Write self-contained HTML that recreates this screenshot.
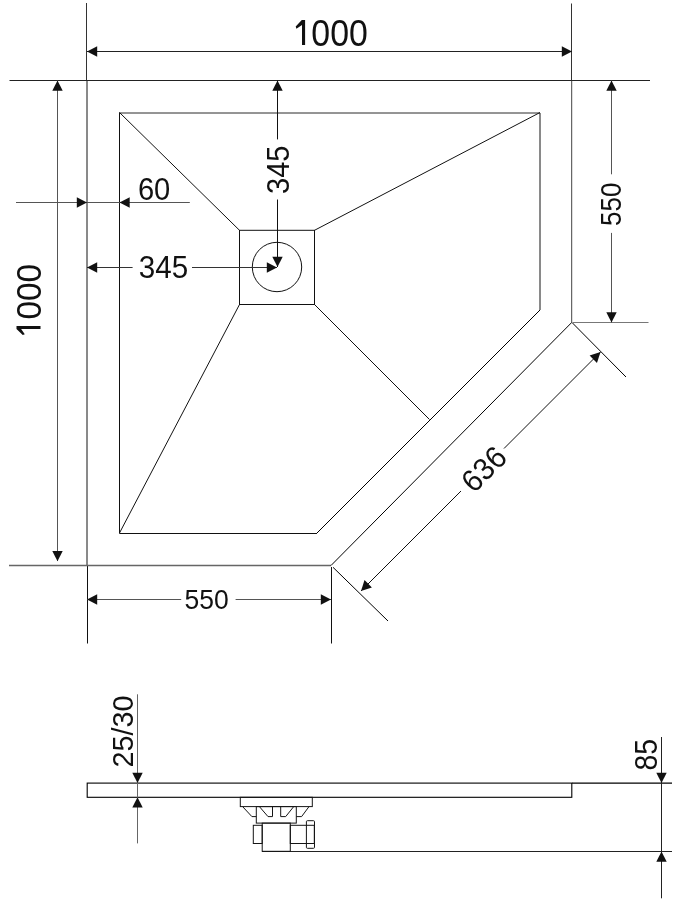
<!DOCTYPE html>
<html><head><meta charset="utf-8"><style>
html,body{margin:0;padding:0;background:#fff;}
svg{display:block;will-change:transform;}
text{font-family:"Liberation Sans",sans-serif;}
</style></head><body>
<svg width="677" height="909" viewBox="0 0 677 909">
<rect width="677" height="909" fill="#fff"/>
<line x1="9.5" y1="80.5" x2="650" y2="80.5" stroke="#222" stroke-width="1"/>
<line x1="86.5" y1="3" x2="86.5" y2="80" stroke="#333" stroke-width="1"/>
<line x1="87" y1="81" x2="87" y2="565" stroke="#151515" stroke-width="1"/>
<line x1="87.5" y1="566" x2="87.5" y2="643.5" stroke="#111" stroke-width="1"/>
<line x1="571.5" y1="3.5" x2="571.5" y2="80" stroke="#333" stroke-width="1"/>
<line x1="571.7" y1="81" x2="571.7" y2="322.5" stroke="#444" stroke-width="1"/>
<line x1="9" y1="565.5" x2="331" y2="565.5" stroke="#666" stroke-width="1.3"/>
<line x1="571.7" y1="322.5" x2="331" y2="565.5" stroke="#000" stroke-width="1"/>
<line x1="573" y1="322.5" x2="648.5" y2="322.5" stroke="#777" stroke-width="1.2"/>
<line x1="572" y1="322.5" x2="626" y2="377" stroke="#000" stroke-width="1"/>
<line x1="333" y1="567.3" x2="388" y2="621" stroke="#000" stroke-width="1"/>
<line x1="331.5" y1="567" x2="331.5" y2="643.5" stroke="#111" stroke-width="1"/>
<line x1="119.5" y1="112.5" x2="119.5" y2="533.5" stroke="#111" stroke-width="1"/>
<line x1="119.5" y1="113" x2="540" y2="113" stroke="#2a2a2a" stroke-width="1"/>
<line x1="540" y1="113" x2="540" y2="310" stroke="#151515" stroke-width="1"/>
<line x1="540" y1="310" x2="316.5" y2="533.5" stroke="#000" stroke-width="1"/>
<line x1="119.5" y1="533.5" x2="317" y2="533.5" stroke="#111" stroke-width="1"/>
<rect x="239.5" y="230.3" width="75" height="74.2" fill="none" stroke="#111" stroke-width="1"/>
<line x1="119.5" y1="112.5" x2="239.5" y2="230.3" stroke="#111" stroke-width="1"/>
<line x1="540" y1="112.5" x2="314.5" y2="230.3" stroke="#111" stroke-width="1"/>
<line x1="119.5" y1="533" x2="239.5" y2="304.5" stroke="#111" stroke-width="1"/>
<line x1="314.5" y1="304.5" x2="429.5" y2="419.5" stroke="#111" stroke-width="1"/>
<circle cx="277" cy="267" r="24.7" fill="none" stroke="#111" stroke-width="1"/>
<line x1="87" y1="51.5" x2="572" y2="51.5" stroke="#222" stroke-width="1"/>
<polygon points="87.00,51.50 97.20,46.30 97.20,56.70" fill="#111"/>
<polygon points="572.00,51.50 561.80,56.70 561.80,46.30" fill="#111"/>
<line x1="57.5" y1="80.5" x2="57.5" y2="561" stroke="#555" stroke-width="1"/>
<polygon points="57.50,80.50 62.70,90.70 52.30,90.70" fill="#111"/>
<polygon points="57.50,561.30 52.30,551.10 62.70,551.10" fill="#111"/>
<line x1="16" y1="202.5" x2="189.8" y2="202.5" stroke="#555" stroke-width="1"/>
<polygon points="87.00,202.50 76.80,207.70 76.80,197.30" fill="#111"/>
<polygon points="119.50,202.50 129.70,197.30 129.70,207.70" fill="#111"/>
<line x1="87" y1="267.5" x2="132.6" y2="267.5" stroke="#333" stroke-width="1"/>
<line x1="192" y1="267.5" x2="277" y2="267.5" stroke="#333" stroke-width="1"/>
<polygon points="87.00,267.50 97.20,262.30 97.20,272.70" fill="#111"/>
<polygon points="277.00,267.50 266.80,272.70 266.80,262.30" fill="#111"/>
<line x1="277.5" y1="80.5" x2="277.5" y2="139.4" stroke="#111" stroke-width="1"/>
<line x1="277.5" y1="199.5" x2="277.5" y2="267" stroke="#111" stroke-width="1"/>
<polygon points="277.50,80.50 282.70,90.70 272.30,90.70" fill="#111"/>
<polygon points="277.50,267.00 272.30,256.80 282.70,256.80" fill="#111"/>
<line x1="611.5" y1="80.5" x2="611.5" y2="174.3" stroke="#555" stroke-width="1"/>
<line x1="611.5" y1="232.9" x2="611.5" y2="322.5" stroke="#555" stroke-width="1"/>
<polygon points="611.50,80.50 616.70,90.70 606.30,90.70" fill="#111"/>
<polygon points="611.50,322.50 606.30,312.30 616.70,312.30" fill="#111"/>
<line x1="87" y1="599.5" x2="181.2" y2="599.5" stroke="#555" stroke-width="1"/>
<line x1="235.6" y1="599.5" x2="331" y2="599.5" stroke="#555" stroke-width="1"/>
<polygon points="87.00,599.50 97.20,594.30 97.20,604.70" fill="#111"/>
<polygon points="331.00,599.50 320.80,604.70 320.80,594.30" fill="#111"/>
<line x1="600.5" y1="352" x2="504" y2="448.5" stroke="#111" stroke-width="1"/>
<line x1="461" y1="491" x2="361" y2="591" stroke="#111" stroke-width="1"/>
<polygon points="600.50,352.00 596.96,362.89 589.61,355.54" fill="#111"/>
<polygon points="361.00,591.00 364.54,580.11 371.89,587.46" fill="#111"/>
<rect x="87.2" y="783.1" width="484.6" height="14.2" fill="none" stroke="#000" stroke-width="1.1"/>
<line x1="572" y1="783.1" x2="672" y2="783.1" stroke="#000" stroke-width="1.1"/>
<line x1="262" y1="851.5" x2="672" y2="851.5" stroke="#222" stroke-width="1"/>
<line x1="137.5" y1="694.3" x2="137.5" y2="843.4" stroke="#666" stroke-width="1"/>
<polygon points="137.50,783.00 132.30,772.80 142.70,772.80" fill="#111"/>
<polygon points="137.50,797.20 142.70,807.40 132.30,807.40" fill="#111"/>
<line x1="661.5" y1="737" x2="661.5" y2="898.3" stroke="#222" stroke-width="1"/>
<polygon points="661.50,783.00 656.30,772.80 666.70,772.80" fill="#111"/>
<polygon points="661.50,851.50 666.70,861.70 656.30,861.70" fill="#111"/>
<rect x="240.3" y="797.3" width="72" height="9.3" fill="none" stroke="#151515"/>
<rect x="256.3" y="806.6" width="40" height="16.5" fill="none" stroke="#151515"/>
<polyline points="242.6,806.6 251.9,816.6 256.3,816.6" fill="none" stroke="#151515"/>
<polyline points="259.4,806.6 268,816.6 272.5,816.6 272.5,806.6" fill="none" stroke="#151515"/>
<polyline points="280.7,806.6 280.7,816.6 285.7,816.6 293.7,806.6" fill="none" stroke="#151515"/>
<polyline points="296.3,816.6 301.6,816.6 309,806.6" fill="none" stroke="#151515"/>
<rect x="262.2" y="823.1" width="28.1" height="28.2" fill="none" stroke="#151515"/>
<rect x="253.3" y="825.3" width="8.9" height="18.2" fill="none" stroke="#151515"/>
<rect x="290.3" y="825.3" width="24" height="18.2" fill="none" stroke="#151515"/>
<rect x="306.4" y="820.7" width="8.1" height="27.6" rx="1" fill="none" stroke="#151515"/>
<text transform="translate(339.55 32.84) rotate(0) scale(0.915 1)" x="0" y="13.06" font-size="37.00" text-anchor="middle" fill="#111">000</text>
<text transform="translate(28.03 291.70) rotate(-90) scale(0.930 1)" x="0" y="12.71" font-size="36.00" text-anchor="middle" fill="#111">000</text>
<text transform="translate(154.10 189.51) rotate(0) scale(0.940 1)" x="0" y="10.94" font-size="31.00" text-anchor="middle" fill="#111">60</text>
<text transform="translate(163.46 267.10) rotate(0) scale(0.955 1)" x="0" y="10.94" font-size="31.00" text-anchor="middle" fill="#111">345</text>
<text transform="translate(278.00 169.73) rotate(-90) scale(0.940 1)" x="0" y="10.94" font-size="31.00" text-anchor="middle" fill="#111">345</text>
<text transform="translate(611.05 204.25) rotate(-90) scale(0.880 1)" x="0" y="10.41" font-size="29.50" text-anchor="middle" fill="#111">550</text>
<text transform="translate(206.72 598.99) rotate(0) scale(0.930 1)" x="0" y="10.06" font-size="28.50" text-anchor="middle" fill="#111">550</text>
<text transform="translate(483.60 468.80) rotate(-45) scale(0.950 1)" x="0" y="10.94" font-size="31.00" text-anchor="middle" fill="#111">636</text>
<text transform="translate(122.20 731.40) rotate(-90) scale(0.960 1)" x="0" y="10.59" font-size="30.00" text-anchor="middle" fill="#111">25/30</text>
<text transform="translate(646.55 754.66) rotate(-90) scale(0.920 1)" x="0" y="10.94" font-size="31.00" text-anchor="middle" fill="#111">85</text>
<polygon points="305.10,20.10 305.10,45.00 302.00,45.00 302.00,24.90 296.40,28.70 295.70,26.60 301.80,20.10" fill="#111"/>
<polygon points="16.50,325.94 40.50,325.94 40.50,328.93 21.12,328.93 24.79,334.33 22.76,335.00 16.50,329.12" fill="#111"/>
</svg>
</body></html>
